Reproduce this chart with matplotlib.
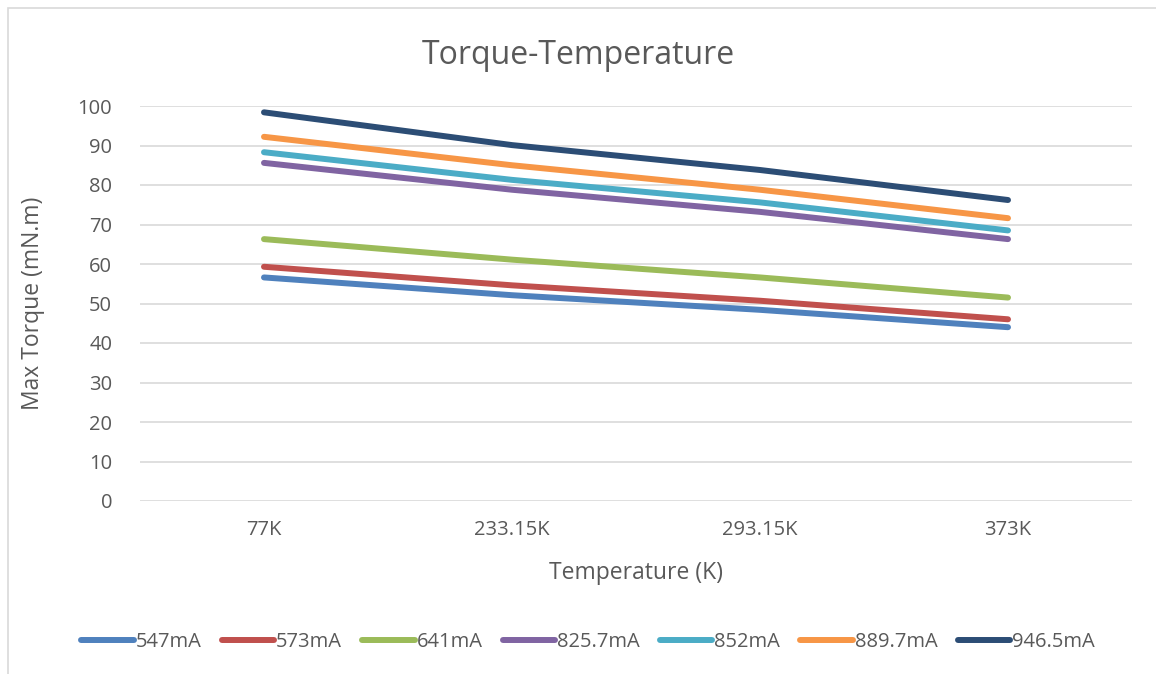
import matplotlib.pyplot as plt
from matplotlib.patches import Rectangle

plt.rcParams['font.family'] = ['Open Sans', 'DejaVu Sans']

temps = ['77K', '233.15K', '293.15K', '373K']
currents = ['547mA', '573mA', '641mA', '825.7mA', '852mA', '889.7mA', '946.5mA']

torque_547 = [56.6, 52.1, 48.4, 44.0]
torque_573 = [59.3, 54.6, 50.7, 46.0]
torque_641 = [66.3, 61.1, 56.6, 51.5]
torque_8257 = [85.6, 78.8, 73.2, 66.3]
torque_852 = [88.3, 81.3, 75.6, 68.5]
torque_8897 = [92.2, 85.0, 78.8, 71.6]
torque_9465 = [98.4, 90.1, 83.8, 76.2]

colors = ['#4f81bd', '#c0504d', '#9bbb59', '#8064a2', '#4bacc6', '#f79646', '#2c4d75']
series = [torque_547, torque_573, torque_641, torque_8257,
          torque_852, torque_8897, torque_9465]

txt = '#595959'

fig = plt.figure(figsize=(11.56, 6.74), dpi=100)
ax = fig.add_axes([140 / 1156, (674 - 501) / 674, 992 / 1156, 395 / 674])

# chart area border (only top and left show in the frame)
fig.patches.append(Rectangle((8 / 1156, -0.05), 1.2, (674 - 8) / 674 + 0.05,
                             transform=fig.transFigure, fill=False,
                             edgecolor='#d9d9d9', linewidth=1.2))

x = range(len(temps))
for vals, c, lab in zip(series, colors, currents):
    ax.plot(x, vals, color=c, linewidth=4.3, solid_capstyle='round', label=lab)

ax.set_xlim(-0.5, 3.5)
ax.set_ylim(0, 100)
ax.set_yticks(range(0, 101, 10))
ax.set_xticks(list(x))
ax.set_xticklabels(temps)
ax.grid(axis='y', color='#d9d9d9', linewidth=1.2)
ax.set_axisbelow(True)
for s in ax.spines.values():
    s.set_visible(False)
ax.tick_params(length=0, labelsize=14.5, labelcolor=txt)
ax.tick_params(axis='y', pad=20)
ax.tick_params(axis='x', pad=14)

ax.set_ylabel('Max Torque (mN.m)', fontsize=16.5, color=txt)
ax.yaxis.set_label_coords(-95 / 992, 0.5)
ax.set_xlabel('Temperature (K)', fontsize=16.5, color=txt)
ax.xaxis.set_label_coords(0.5, -60 / 395)
fig.text(0.5, 1 - 55 / 674, 'Torque-Temperature', ha='center', va='center',
         fontsize=23, color=txt)

fig.legend(loc='center', bbox_to_anchor=(0.5 + 10 / 1156, 1 - 642 / 674), ncol=7,
           frameon=False, fontsize=14.5, labelcolor=txt, handlelength=2.6,
           handletextpad=0.1, columnspacing=1.0)

fig.savefig('out.png', dpi=100)
